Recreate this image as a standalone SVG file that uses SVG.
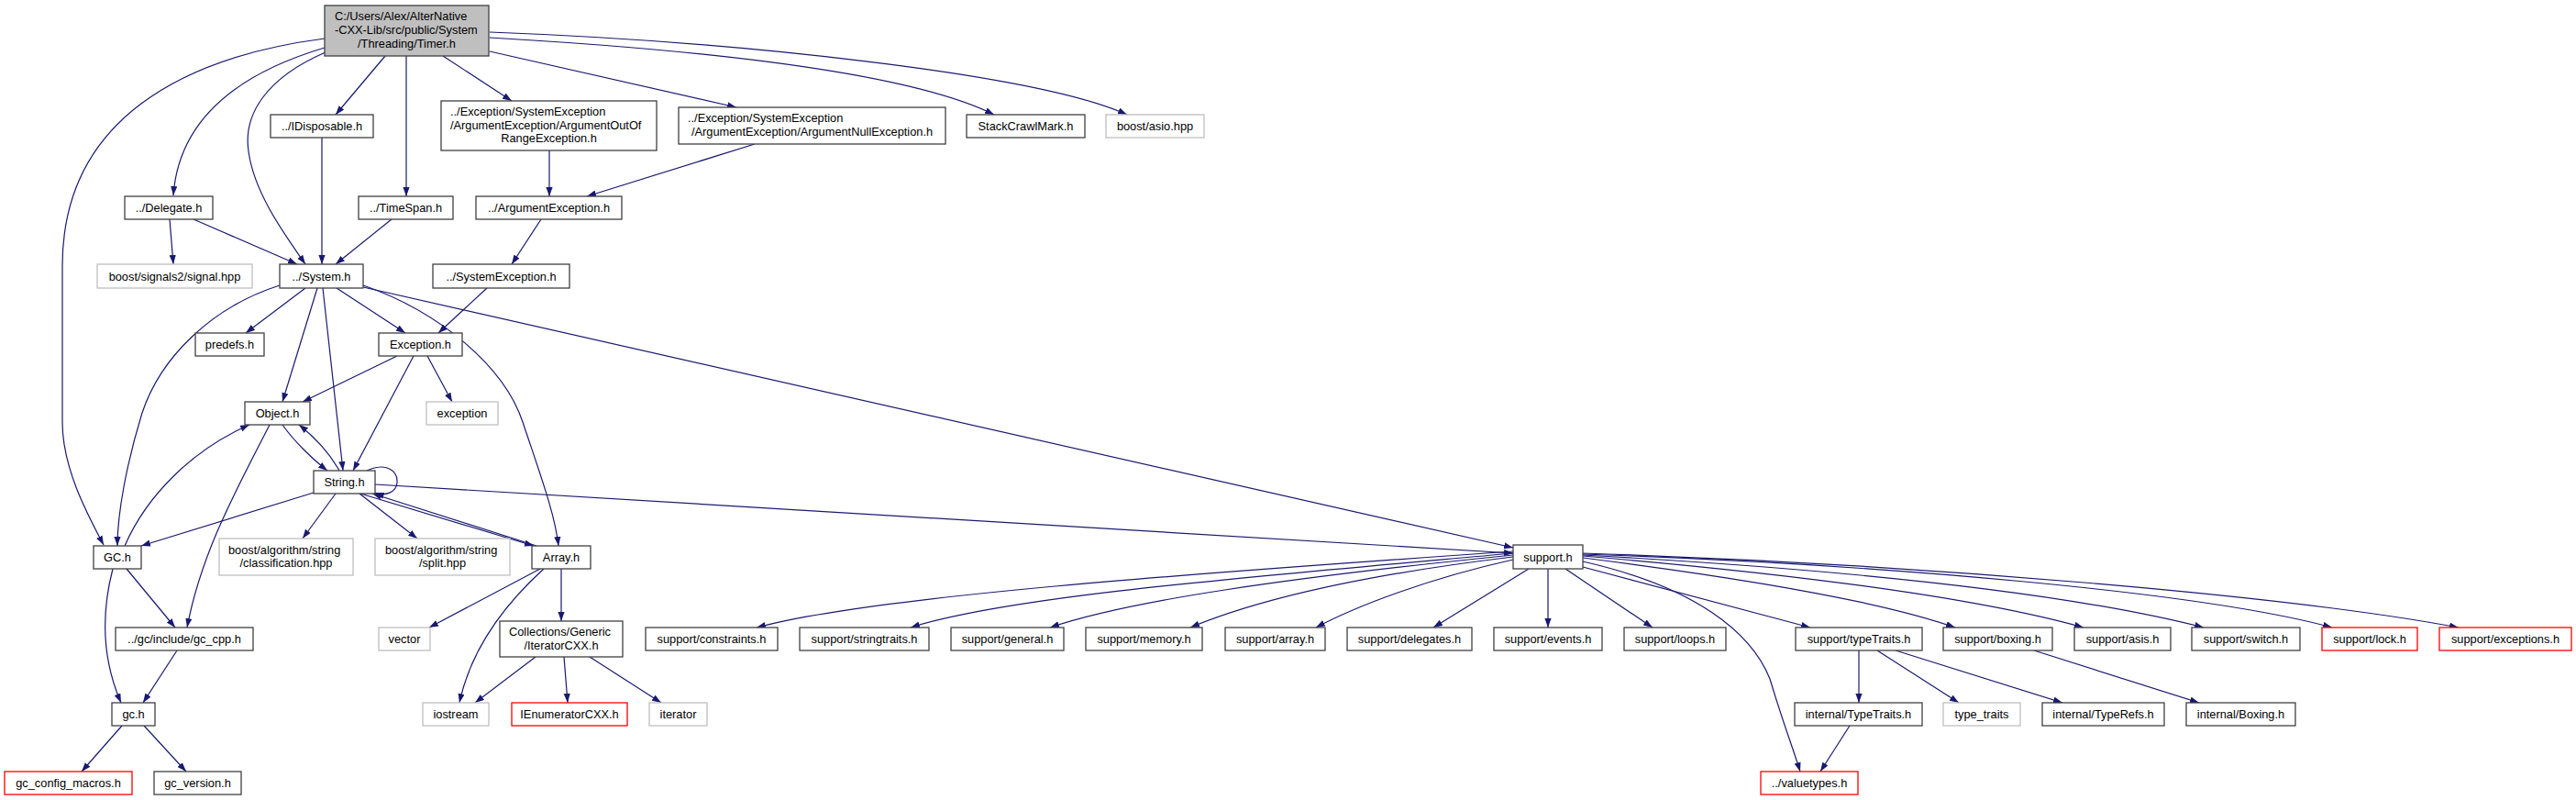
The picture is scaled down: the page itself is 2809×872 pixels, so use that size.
<svg xmlns="http://www.w3.org/2000/svg" width="2809" height="872" viewBox="0 0 2809 872">
<defs>
<marker id="ah" markerUnits="userSpaceOnUse" markerWidth="11" markerHeight="8" refX="10" refY="3.6" orient="auto">
<path d="M0,0 L10,3.6 L0,7.2 z" fill="#191970"/>
</marker>
<style>
.n rect{fill:#fff;stroke:#404040;stroke-width:1.3}
.n.g rect{stroke:#bfbfbf}
.n.r rect{stroke:#ff0000}
.n.m rect{fill:#bfbfbf}
.n text{font-family:"Liberation Sans",Arial,sans-serif;font-size:12.8px;fill:#000;text-anchor:middle}
.n text.l{text-anchor:start}
#edges path{fill:none;stroke:#191970;stroke-width:1.2;marker-end:url(#ah)}
</style>
</defs>
<rect width="2809" height="872" fill="#fff"/>
<g id="edges">
<path d="M354,42 C200,62 68,130 68,290 L68,460 C68,510 95,560 113,594"/>
<path d="M354,52 C260,80 195,130 189,213"/>
<path d="M355,57 C290,85 265,125 271,165 C277,210 310,255 333,288"/>
<path d="M420,61 L366,125"/>
<path d="M443,61 L443,214"/>
<path d="M483,61 L558,110"/>
<path d="M534,56 L803,117"/>
<path d="M534,41 C760,54 990,78 1084,125"/>
<path d="M534,35 C800,45 1130,80 1229,125"/>
<path d="M599,164 L599,214"/>
<path d="M823,157 L640,214"/>
<path d="M590,239 L558,288"/>
<path d="M351,150 L351,288"/>
<path d="M185,239 L189,288"/>
<path d="M211,239 L324,288"/>
<path d="M427,239 L366,288"/>
<path d="M305,311 C230,335 175,390 155,450 C138,505 128,560 128,595"/>
<path d="M333,314 L268,363"/>
<path d="M346,314 L308,438"/>
<path d="M352,314 L374,513"/>
<path d="M367,314 L442,363"/>
<path d="M396,311 C480,340 550,400 570,460 C590,520 605,560 609,595"/>
<path d="M396,313 L1650,597"/>
<path d="M531,314 L478,363"/>
<path d="M433,388 L330,438"/>
<path d="M451,388 L385,513"/>
<path d="M466,388 L493,438"/>
<path d="M308,463 C320,480 340,500 357,513"/>
<path d="M370,513 C360,495 345,478 326,463"/>
<path d="M294,463 C260,530 220,600 204,684"/>
<path d="M136,595 C160,540 210,490 272,463"/>
<path d="M400,513 C422,503 434,514 433,526 C432,537 420,541 409,537"/>
<path d="M342,537 L154,595"/>
<path d="M366,538 L330,587"/>
<path d="M392,538 L455,587"/>
<path d="M393,538 L582,595"/>
<path d="M585,595 L406,538"/>
<path d="M409,528 L1650,603"/>
<path d="M138,620 L191,684"/>
<path d="M123,620 C110,670 112,720 132,766"/>
<path d="M193,709 L156,766"/>
<path d="M133,791 L89,841"/>
<path d="M157,791 L203,841"/>
<path d="M589,620 L468,684"/>
<path d="M593,620 C560,650 515,700 501,766"/>
<path d="M612,620 L612,677"/>
<path d="M584,716 L518,766"/>
<path d="M615,716 L619,766"/>
<path d="M643,716 L721,766"/>
<path d="M1650,601 C1300,625 950,650 825,684"/>
<path d="M1650,603 C1350,630 1100,650 993,684"/>
<path d="M1650,605 C1400,630 1230,655 1145,684"/>
<path d="M1650,607 C1500,625 1380,650 1298,684"/>
<path d="M1650,610 C1560,630 1480,660 1435,684"/>
<path d="M1667,620 L1563,684"/>
<path d="M1688,620 L1688,684"/>
<path d="M1707,620 L1802,684"/>
<path d="M1726,618 L1974,684"/>
<path d="M1726,612 C1850,640 1910,690 1930,740 C1945,790 1955,815 1963,841"/>
<path d="M1726,608 C1900,630 2050,655 2132,684"/>
<path d="M1726,606 C1950,625 2150,650 2272,684"/>
<path d="M1726,605 C2000,620 2250,645 2403,684"/>
<path d="M1726,604 C2050,615 2400,645 2543,684"/>
<path d="M1726,603 C2100,615 2500,650 2681,684"/>
<path d="M2027,709 L2027,766"/>
<path d="M2047,709 L2136,766"/>
<path d="M2067,709 L2249,766"/>
<path d="M2218,709 L2398,766"/>
<path d="M2017,791 L1985,841"/>
</g>
<g id="timer" class="n m"><rect x="354" y="6" width="179" height="55"/><text class="l" x="365" y="22">C:/Users/Alex/AlterNative</text><text class="l" x="365" y="37">-CXX-Lib/src/public/System</text><text x="443.5" y="51.5">/Threading/Timer.h</text></g>
<g id="idisposable" class="n"><rect x="295" y="125" width="112" height="25"/><text x="351" y="142">../IDisposable.h</text></g>
<g id="delegate" class="n"><rect x="136" y="214" width="96" height="25"/><text x="184" y="231">../Delegate.h</text></g>
<g id="timespan" class="n"><rect x="391" y="214" width="103" height="25"/><text x="442.5" y="231">../TimeSpan.h</text></g>
<g id="argoutofrange" class="n"><rect x="481" y="110" width="235" height="54"/><text class="l" x="491" y="126">../Exception/SystemException</text><text class="l" x="491" y="141">/ArgumentException/ArgumentOutOf</text><text x="598.5" y="155">RangeException.h</text></g>
<g id="argnull" class="n"><rect x="740" y="117" width="291" height="40"/><text class="l" x="750" y="133">../Exception/SystemException</text><text x="885.5" y="148">/ArgumentException/ArgumentNullException.h</text></g>
<g id="stackcrawl" class="n"><rect x="1054" y="125" width="129" height="25"/><text x="1118.5" y="142">StackCrawlMark.h</text></g>
<g id="asio" class="n g"><rect x="1206" y="125" width="107" height="25"/><text x="1259.5" y="142">boost/asio.hpp</text></g>
<g id="argexception" class="n"><rect x="519" y="214" width="159" height="25"/><text x="598.5" y="231">../ArgumentException.h</text></g>
<g id="signal" class="n g"><rect x="106" y="288" width="169" height="26"/><text x="190.5" y="305.5">boost/signals2/signal.hpp</text></g>
<g id="system" class="n"><rect x="305" y="288" width="91" height="26"/><text x="350.5" y="305.5">../System.h</text></g>
<g id="systemexception" class="n"><rect x="472" y="288" width="149" height="26"/><text x="546.5" y="305.5">../SystemException.h</text></g>
<g id="predefs" class="n"><rect x="213" y="363" width="75" height="25"/><text x="250.5" y="380">predefs.h</text></g>
<g id="exception_h" class="n"><rect x="413" y="363" width="91" height="25"/><text x="458.5" y="380">Exception.h</text></g>
<g id="object" class="n"><rect x="267" y="438" width="71" height="25"/><text x="302.5" y="455">Object.h</text></g>
<g id="exception_std" class="n g"><rect x="465" y="438" width="78" height="25"/><text x="504" y="455">exception</text></g>
<g id="string" class="n"><rect x="342" y="513" width="67" height="25"/><text x="375.5" y="530">String.h</text></g>
<g id="gc_upper" class="n"><rect x="102" y="595" width="52" height="25"/><text x="128" y="612">GC.h</text></g>
<g id="classification" class="n g"><rect x="239" y="587" width="146" height="40"/><text class="l" x="249" y="603.5">boost/algorithm/string</text><text x="312" y="618">/classification.hpp</text></g>
<g id="split" class="n g"><rect x="409" y="587" width="147" height="40"/><text class="l" x="420" y="603.5">boost/algorithm/string</text><text x="482.5" y="618">/split.hpp</text></g>
<g id="array" class="n"><rect x="580" y="595" width="64" height="25"/><text x="612" y="612">Array.h</text></g>
<g id="gc_cpp" class="n"><rect x="126" y="684" width="150" height="25"/><text x="201" y="701">../gc/include/gc_cpp.h</text></g>
<g id="vector" class="n g"><rect x="413" y="684" width="56" height="25"/><text x="441" y="701">vector</text></g>
<g id="iteratorcxx" class="n"><rect x="545" y="677" width="134" height="39"/><text class="l" x="555" y="693">Collections/Generic</text><text x="612" y="707.5">/IteratorCXX.h</text></g>
<g id="gc_lower" class="n"><rect x="122" y="766" width="47" height="25"/><text x="145.5" y="783">gc.h</text></g>
<g id="iostream" class="n g"><rect x="461" y="766" width="72" height="25"/><text x="497" y="783">iostream</text></g>
<g id="ienumerator" class="n r"><rect x="558" y="766" width="126" height="25"/><text x="621" y="783">IEnumeratorCXX.h</text></g>
<g id="iterator" class="n g"><rect x="708" y="766" width="63" height="25"/><text x="739.5" y="783">iterator</text></g>
<g id="gc_config" class="n r"><rect x="5" y="841" width="139" height="25"/><text x="74.5" y="858">gc_config_macros.h</text></g>
<g id="gc_version" class="n"><rect x="168" y="841" width="95" height="25"/><text x="215.5" y="858">gc_version.h</text></g>
<g id="support" class="n"><rect x="1650" y="594" width="76" height="26"/><text x="1688" y="611.5">support.h</text></g>
<g id="constraints" class="n"><rect x="704" y="684" width="144" height="25"/><text x="776" y="701">support/constraints.h</text></g>
<g id="stringtraits" class="n"><rect x="872" y="684" width="141" height="25"/><text x="942.5" y="701">support/stringtraits.h</text></g>
<g id="general" class="n"><rect x="1037" y="684" width="123" height="25"/><text x="1098.5" y="701">support/general.h</text></g>
<g id="memory" class="n"><rect x="1184" y="684" width="127" height="25"/><text x="1247.5" y="701">support/memory.h</text></g>
<g id="support_array" class="n"><rect x="1336" y="684" width="109" height="25"/><text x="1390.5" y="701">support/array.h</text></g>
<g id="delegates" class="n"><rect x="1469" y="684" width="136" height="25"/><text x="1537" y="701">support/delegates.h</text></g>
<g id="events" class="n"><rect x="1629" y="684" width="118" height="25"/><text x="1688" y="701">support/events.h</text></g>
<g id="loops" class="n"><rect x="1771" y="684" width="111" height="25"/><text x="1826.5" y="701">support/loops.h</text></g>
<g id="typetraits" class="n"><rect x="1958" y="684" width="138" height="25"/><text x="2027" y="701">support/typeTraits.h</text></g>
<g id="boxing" class="n"><rect x="2119" y="684" width="119" height="25"/><text x="2178.5" y="701">support/boxing.h</text></g>
<g id="asis" class="n"><rect x="2262" y="684" width="105" height="25"/><text x="2314.5" y="701">support/asis.h</text></g>
<g id="switch" class="n"><rect x="2390" y="684" width="118" height="25"/><text x="2449" y="701">support/switch.h</text></g>
<g id="lock" class="n r"><rect x="2532" y="684" width="104" height="25"/><text x="2584" y="701">support/lock.h</text></g>
<g id="support_exceptions" class="n r"><rect x="2660" y="684" width="144" height="25"/><text x="2732" y="701">support/exceptions.h</text></g>
<g id="type_traits" class="n g"><rect x="2119" y="766" width="84" height="25"/><text x="2161" y="783">type_traits</text></g>
<g id="internal_typetraits" class="n"><rect x="1957" y="766" width="139" height="25"/><text x="2026.5" y="783">internal/TypeTraits.h</text></g>
<g id="typerefs" class="n"><rect x="2227" y="766" width="133" height="25"/><text x="2293.5" y="783">internal/TypeRefs.h</text></g>
<g id="internal_boxing" class="n"><rect x="2384" y="766" width="119" height="25"/><text x="2443.5" y="783">internal/Boxing.h</text></g>
<g id="valuetypes" class="n r"><rect x="1920" y="841" width="106" height="25"/><text x="1973" y="858">../valuetypes.h</text></g>
</svg>
